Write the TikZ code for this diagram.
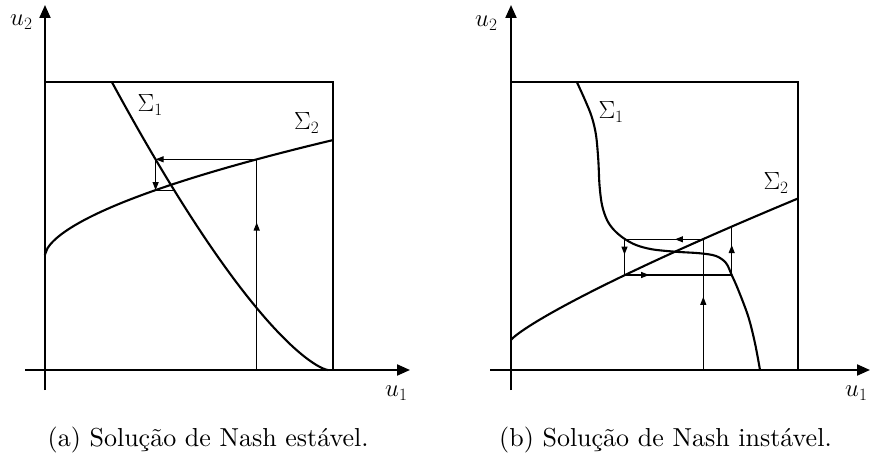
\documentclass[tikz,border=0pt]{standalone}
\usepackage{fontspec}
\newfontfamily\capfont{lmroman10-regular}[Extension=.otf]
\usetikzlibrary{arrows.meta,decorations.markings}
\tikzset{
  heavy/.style={line width=2.1pt},
  light/.style={line width=1.1pt},
  axisarrow/.style={heavy,-{Triangle[length=13pt,width=11pt]}},
  endtip/.style={light,-{Triangle[length=8pt,width=6pt]}},
  midtip/.style={light,postaction={decorate},decoration={markings,mark=at position #1 with {\arrow{Triangle[length=8pt,width=6pt]}}}},
  lbl/.style={anchor=base west,inner sep=0pt,font=\fontsize{23.5}{28}\selectfont},
  captext/.style={anchor=base west,inner sep=0pt,font=\capfont\fontsize{26}{31}\selectfont}
}
\begin{document}
\begin{tikzpicture}[x=1pt,y=-1pt]
\useasboundingbox (0,0) rectangle (870,462);
% ---------- left panel ----------
\coordinate (A0) at (256.7,370);
\coordinate (A1) at (256.7,159.3);
\coordinate (A2) at (155.6,159.3);
\coordinate (A3) at (155.6,190.1);
\coordinate (A4) at (174,190.1);
\draw[midtip=0.7] (A0) -- (A1);
\draw[endtip] (A1) -- (A2);
\draw[endtip] (A2) -- (A3);
\draw[light] (A3) -- (A4);
\draw[heavy] (45,81.7) rectangle (333,370);
\draw[axisarrow] (25,370) -- (410,370);
\draw[axisarrow] (45,390) -- (45,5);
\draw[heavy,line join=round] plot[domain=111.7:327.9,samples=90] (\x,{370-0.1682*(328-\x)^1.385}) -- (328,370);
\draw[heavy,line join=round] (45,255) -- plot[domain=45.05:333,samples=120] (\x,{255-3.91*(\x-45)^0.597});
\node[lbl] (s1a) at (137.5,112) {$\Sigma_1$};
\node[lbl] (s2a) at (294,130) {$\Sigma_2$};
\node[lbl] (u2a) at (10,26) {$u_2$};
\node[lbl] (u1a) at (385,396.7) {$u_1$};
\node[captext] (capa) at (47.5,446) {(a) Solução de Nash estável.};
% ---------- right panel ----------
\coordinate (B0) at (703.3,370);
\coordinate (B1) at (703.3,239.3);
\coordinate (B2) at (624.5,239.3);
\coordinate (B3) at (624.5,275);
\coordinate (B4) at (731.7,275);
\coordinate (B5) at (731.7,226.7);
\draw[midtip=0.56] (B0) -- (B1);
\draw[midtip=0.36] (B1) -- (B2);
\draw[midtip=0.43] (B2) -- (B3);
\draw[midtip=0.23] (B3) -- (B4);
\draw[midtip=0.62] (B4) -- (B5);
\draw[heavy] (511,81.7) rectangle (798.3,370);
\draw[axisarrow] (490,370) -- (870,370);
\draw[axisarrow] (511,390) -- (511,5);
\draw[heavy,line join=round] plot[smooth,tension=0.55] coordinates {(576.7,81.7) (585,100) (591.7,116.7) (596,135) (598.3,160) (599.5,185) (602,205) (607,220) (614,230) (624,238.5) (636,245) (652,249.3) (675,251.7) (700,253.3) (716,256) (726,263) (731.7,275) (738.3,290) (748.3,316.7) (755,343.3) (760,370)};
\draw[heavy,line join=round] (511,340) -- plot[domain=511.05:798.3,samples=120] (\x,{340-1.199*(\x-511)^0.843});
\node[lbl] (s1b) at (598.3,119) {$\Sigma_1$};
\node[lbl] (s2b) at (763.3,190) {$\Sigma_2$};
\node[lbl] (u2b) at (475,27) {$u_2$};
\node[lbl] (u1b) at (845,396.7) {$u_1$};
\node[captext] (capb) at (499,446) {(b) Solução de Nash instável.};
\end{tikzpicture}
\end{document}
